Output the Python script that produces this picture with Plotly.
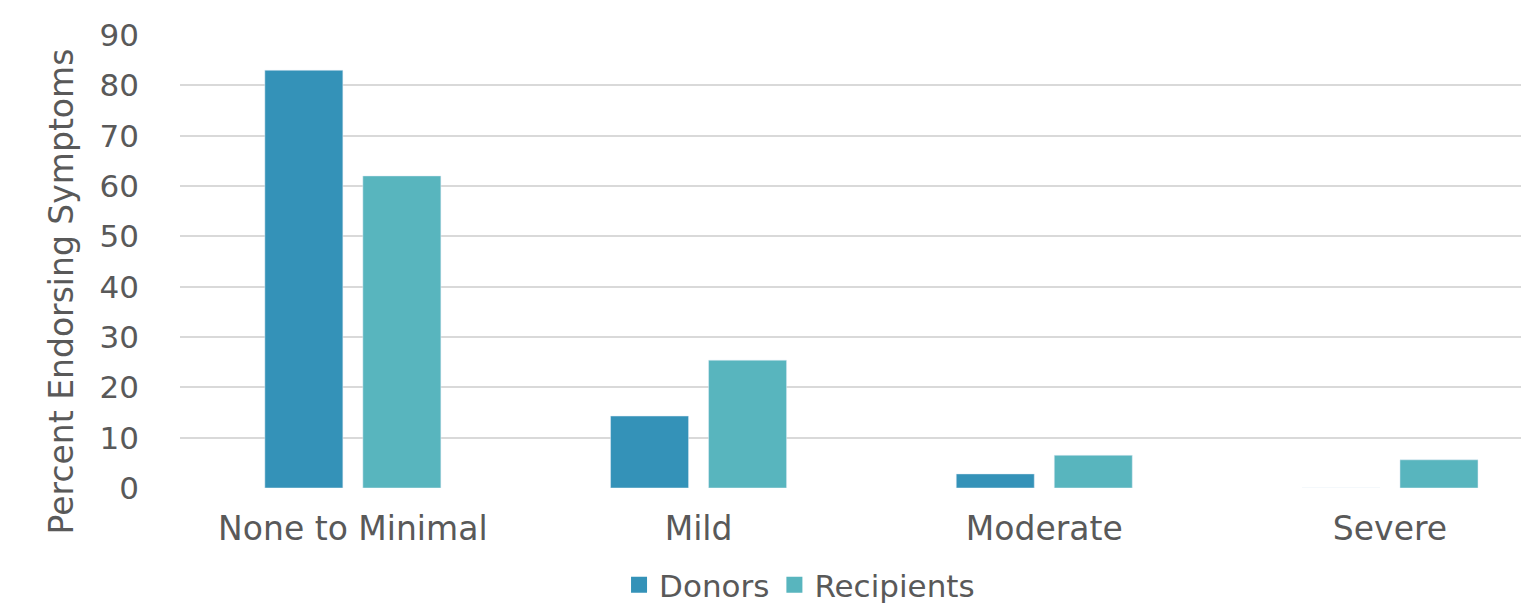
import plotly.graph_objects as go

categories = ["None to Minimal", "Mild", "Moderate", "Severe"]
donors = [83, 14.3, 2.8, 0]
recipients = [62, 25.4, 6.5, 5.6]
series_names = ["Donors", "Recipients"]
colors = ["#3492B8", "#58B5BE"]
y_ticks = [0, 10, 20, 30, 40, 50, 60, 70, 80, 90]

FONT = "Century Gothic, DejaVu Sans, sans-serif"
GRAY = "#595959"

fig = go.Figure()
for name, vals, col in [(series_names[0], donors, colors[0]), (series_names[1], recipients, colors[1])]:
    fig.add_trace(go.Bar(x=categories, y=vals, name=name, marker_color=col, showlegend=False))
    # legend proxy with larger square symbol
    fig.add_trace(go.Scatter(x=[None], y=[None], mode="markers", name=name,
                             marker=dict(symbol="square", size=20, color=col)))

fig.update_layout(
    width=1521, height=605,
    margin=dict(l=180, r=0, t=35, b=117, autoexpand=False),
    paper_bgcolor="white", plot_bgcolor="white",
    barmode="group", bargap=0.433, bargroupgap=0.204,
    font=dict(family=FONT, color=GRAY, size=32),
    showlegend=True,
    legend=dict(orientation="h", x=0.462, xanchor="center", y=-0.155, yanchor="top",
                font=dict(size=31, color=GRAY), itemsizing="trace",
                tracegroupgap=0),
    xaxis=dict(range=[-0.5, 3.379], showgrid=False, showline=False, zeroline=False,
               tickfont=dict(size=33, color=GRAY), ticklabelstandoff=18),
    yaxis=dict(range=[0, 90], tickvals=y_ticks, showgrid=True, gridcolor="#D9D9D9",
               gridwidth=2, zeroline=False, showline=False,
               tickfont=dict(size=31, color=GRAY), ticklabelstandoff=40),
    annotations=[dict(text="Percent Endorsing Symptoms", xref="paper", yref="paper",
                      x=-0.088, y=0.5, xanchor="center", yanchor="middle", showarrow=False,
                      textangle=-90, font=dict(size=33, color=GRAY),
                      yshift=-30)],
)

fig.write_html("out.html")
